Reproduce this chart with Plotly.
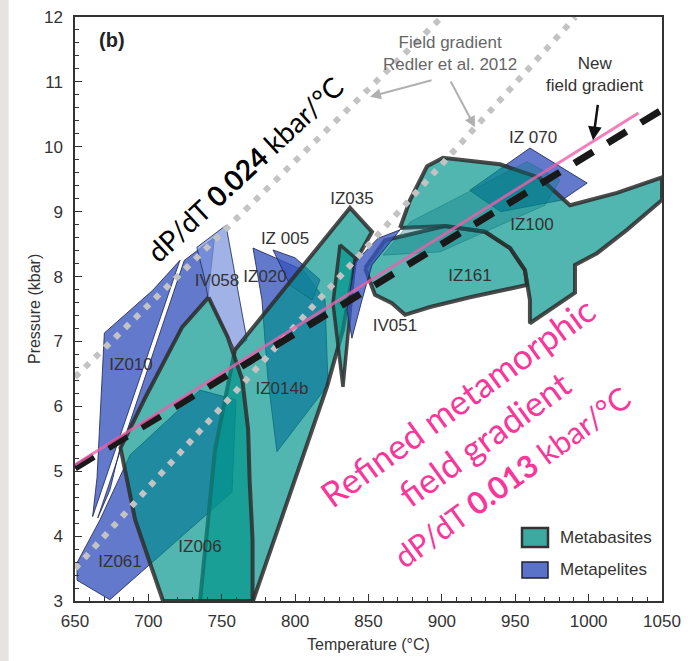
import plotly.graph_objects as go

# ---------------- gradients ----------------
redler_upper_T = [650, 900]
redler_upper_P = [6.45, 12.0]
redler_lower_T = [650, 991]
redler_lower_P = [3.5, 12.0]
new_grad_T = [650, 1050]
new_grad_P = [5.05, 10.57]
refined_T = [650, 1034]
refined_P = [5.10, 10.52]

# ---------------- metapelites (blue) ----------------
iz010_T = [670, 703, 721.5, 662, 665]
iz010_P = [7.13, 7.79, 8.25, 4.30, 4.90]
iv058b_T = [724.5, 745, 740.6, 722.9, 697.7, 680.7, 673.8, 665.5]
iv058b_P = [8.25, 8.60, 7.68, 7.22, 6.14, 5.36, 4.71, 4.28]
iv058_T = [733, 752.9, 767.2, 759, 740.6, 738]
iv058_P = [8.45, 8.79, 7.02, 6.87, 7.68, 8.0]
iz061_T = [651.4, 651.4, 673.8, 757, 759.7, 735.2, 687.5, 667]
iz061_P = [3.59, 3.32, 3.02, 4.68, 6.10, 6.25, 5.25, 4.25]
iz005_T = [771.3, 805.4, 820.4, 822.4, 787.6, 781.5, 777.4]
iz005_P = [8.44, 8.10, 7.64, 6.33, 5.30, 6.41, 7.64]
iz020_T = [784.9, 799.9, 817, 811.5, 796.5]
iz020_P = [8.41, 8.29, 7.95, 7.64, 7.87]
iz070_T = [919, 960, 999, 982, 940]
iz070_P = [9.33, 9.98, 9.44, 9.18, 9.00]
iv051_T = [840.8, 856.5, 871.5, 852.4, 845.6, 838.7, 835.3]
iv051_P = [8.22, 8.59, 8.72, 8.18, 7.64, 7.05, 7.48]

# ---------------- metabasites (teal) ----------------
iz035_T = [735.2, 745.4, 759, 837.4, 852.4, 840.8, 832.6, 821.7, 771.3]
iz035_P = [3.0, 5.33, 6.87, 9.06, 8.69, 8.22, 7.18, 6.30, 3.0]
iz035b_T = [830.6, 840.8, 837.4, 832.6, 825.8]
iz035b_P = [8.49, 8.29, 7.44, 6.30, 7.59]
iz006_T = [741, 723, 698, 681, 691, 710, 771, 771, 769, 768, 764, 754]
iz006_P = [7.68, 7.22, 6.14, 5.36, 4.25, 3.0, 3.0, 3.94, 4.86, 5.64, 6.41, 7.07]
iz161_T = [847.6, 861.2, 902.1, 929.4, 946.4, 956.6, 958, 919.2, 891.9, 874.9, 866, 854.4]
iz161_P = [8.13, 8.56, 8.78, 8.69, 8.44, 8.10, 7.87, 7.68, 7.53, 7.41, 7.59, 7.72]
iz100_T = [871.5, 878.3, 889.9, 900.8, 939.6, 966.9, 981.8, 987.3, 1019.3, 1050, 1050,
           1026.1, 1005.7, 990.7, 990.7, 960, 960, 956.6, 946.4, 929.4, 902.1]
iz100_P = [8.75, 9.18, 9.70, 9.83, 9.73, 9.52, 9.21, 9.10, 9.29, 9.53, 9.18,
           8.72, 8.36, 8.18, 7.75, 7.28, 7.64, 8.10, 8.44, 8.69, 8.78]
iz100b_T = [859.9, 878.3, 958, 980.5, 970.3, 898.7]
iz100b_P = [8.33, 8.84, 9.77, 9.49, 9.10, 8.38]

# ---------------- sample labels ----------------
label_text = ["IZ 070", "IZ035", "IZ 005", "IZ020", "IV058", "IZ010", "IZ014b",
              "IZ100", "IZ161", "IV051", "IZ061", "IZ006"]
label_T = [962.1, 838.7, 793.1, 779.5, 746.8, 688.2, 791.0, 961.4, 919.2, 868.0, 680.7, 735.2]
label_P = [10.13, 9.19, 8.56, 7.98, 7.92, 6.62, 6.25, 8.78, 7.99, 7.22, 3.59, 3.82]

x_ticks = [650, 700, 750, 800, 850, 900, 950, 1000, 1050]
y_ticks = [3, 4, 5, 6, 7, 8, 9, 10, 11, 12]

TEAL_FILL = "rgba(0,148,138,0.68)"
TEAL_LINE = "rgba(45,45,45,0.85)"
BLUE_FILL = "rgba(55,85,190,0.78)"
LIGHT_BLUE_FILL = "rgba(125,148,222,0.72)"
BLUE_LINE = "rgba(25,35,80,0.8)"

fig = go.Figure()


def poly(T, P, name, fill, line, width):
    fig.add_trace(go.Scatter(
        x=T + [T[0]], y=P + [P[0]], mode="lines", fill="toself",
        fillcolor=fill, line=dict(color=line, width=width),
        name=name, showlegend=False, hoverinfo="name"))


# blue first
poly(iz010_T, iz010_P, "IZ010", BLUE_FILL, BLUE_LINE, 1)
poly(iv058b_T, iv058b_P, "IV058", BLUE_FILL, BLUE_LINE, 1)
poly(iv058_T, iv058_P, "IV058", LIGHT_BLUE_FILL, BLUE_LINE, 1)
poly(iz061_T, iz061_P, "IZ061", BLUE_FILL, BLUE_LINE, 1)
poly(iz005_T, iz005_P, "IZ 005", BLUE_FILL, BLUE_LINE, 1)
poly(iz020_T, iz020_P, "IZ020", BLUE_FILL, BLUE_LINE, 1)
poly(iz070_T, iz070_P, "IZ 070", BLUE_FILL, BLUE_LINE, 1)

# teal
poly(iz035_T, iz035_P, "IZ035", TEAL_FILL, TEAL_LINE, 4)
poly(iz006_T, iz006_P, "IZ006", TEAL_FILL, TEAL_LINE, 4)
poly(iz035b_T, iz035b_P, "IZ035", TEAL_FILL, TEAL_LINE, 3.5)
poly(iz161_T, iz161_P, "IZ161", TEAL_FILL, TEAL_LINE, 4)
poly(iz100_T, iz100_P, "IZ100", TEAL_FILL, TEAL_LINE, 4)
poly(iz100b_T, iz100b_P, "IZ100", "rgba(0,120,130,0.35)", "rgba(0,90,100,0.3)", 1)

poly(iv051_T, iv051_P, "IV051", BLUE_FILL, BLUE_LINE, 1)

# gradient lines
for T, P in [(redler_upper_T, redler_upper_P), (redler_lower_T, redler_lower_P)]:
    fig.add_trace(go.Scatter(x=T, y=P, mode="lines", showlegend=False, hoverinfo="skip",
                             line=dict(color="rgb(195,195,195)", width=6, dash="6px,8px")))
fig.add_trace(go.Scatter(x=new_grad_T, y=new_grad_P, mode="lines", showlegend=False,
                         hoverinfo="skip",
                         line=dict(color="rgb(25,25,25)", width=7, dash="22px,17px")))
fig.add_trace(go.Scatter(x=refined_T, y=refined_P, mode="lines", showlegend=False,
                         hoverinfo="skip",
                         line=dict(color="rgba(238,95,170,0.8)", width=3)))

# sample labels
fig.add_trace(go.Scatter(x=label_T, y=label_P, mode="text", text=label_text,
                         textfont=dict(family="Liberation Sans", size=17, color="#333333"),
                         showlegend=False, hoverinfo="skip"))

C = dict(xanchor="center", yanchor="middle", showarrow=False)
ann = []
ann.append(dict(x=675.2, y=11.65, text="<b>(b)</b>",
                font=dict(family="Liberation Sans", size=20, color="#222"), **C))
ann.append(dict(x=905.5, y=11.43, text="Field gradient<br>Redler et al. 2012",
                font=dict(family="Liberation Sans", size=17, color="#666"), **C))
ann.append(dict(x=1004.3, y=11.12, text="New<br>field gradient",
                font=dict(family="Liberation Sans", size=17, color="#333"), **C))
# arrows
for (hx, hy, tx, ty, col, w) in [(851, 10.77, 894, 11.03, "#b0b0b0", 2),
                                 (922.6, 10.30, 905.5, 11.03, "#b0b0b0", 2),
                                 (1003, 10.10, 1006.4, 10.67, "#111", 2.5)]:
    ann.append(dict(x=hx, y=hy, ax=tx, ay=ty, axref="x", ayref="y", xref="x", yref="y",
                    text="", showarrow=True, arrowhead=2, arrowsize=1.1,
                    arrowwidth=w, arrowcolor=col))
ann.append(dict(x=765.5, y=9.66, text="dP/dT <b>0.024</b> kbar/°C",
                textangle=-43, font=dict(family="Lato", size=28, color="#000"), **C))
ann.append(dict(x=928.5, y=5.50,
                text="Refined metamorphic<br>field gradient<br>"
                     "<span style='font-size:31px'>dP/dT <b>0.013</b> kbar/°C</span>",
                textangle=-36,
                font=dict(family="Lato", size=35, color="#f8379a"), **C))
# legend labels
ann.append(dict(x=0.8228, y=0.1079, xref="paper", yref="paper", xanchor="left",
                yanchor="middle", text="Metabasites", showarrow=False,
                font=dict(family="Liberation Sans", size=17, color="#333")))
ann.append(dict(x=0.8228, y=0.0531, xref="paper", yref="paper", xanchor="left",
                yanchor="middle", text="Metapelites", showarrow=False,
                font=dict(family="Liberation Sans", size=17, color="#333")))
# axis titles
ann.append(dict(x=0.5, y=-0.0753, xref="paper", yref="paper", text="Temperature (°C)",
                font=dict(family="Liberation Sans", size=16, color="#333"), **C))
ann.append(dict(x=-0.0698, y=0.5, xref="paper", yref="paper", text="Pressure (kbar)",
                textangle=-90,
                font=dict(family="Liberation Sans", size=16, color="#333"), **C))

shapes = [
    dict(type="rect", xref="paper", yref="paper", x0=-0.128, x1=-0.113, y0=-0.11, y1=1.04,
         fillcolor="#e6e4e0", line=dict(width=0), layer="below"),
    dict(type="rect", xref="paper", yref="paper", x0=0.7615, x1=0.8058, y0=0.0925, y1=0.125,
         fillcolor="rgb(60,170,160)", line=dict(color="#333", width=2.5)),
    dict(type="rect", xref="paper", yref="paper", x0=0.7615, x1=0.8058, y0=0.0394, y1=0.0668,
         fillcolor="rgb(90,115,200)", line=dict(color="#223", width=1.5)),
]

axis_common = dict(showgrid=False, zeroline=False, showline=True, linecolor="#333",
                   linewidth=1.5, mirror=True, ticks="inside", ticklen=7, tickwidth=1.2,
                   tickcolor="#333", automargin=False,
                   tickfont=dict(family="Liberation Sans", size=17, color="#333"))

fig.update_layout(
    width=696, height=661,
    margin=dict(l=75, r=34, t=17, b=60, autoexpand=False),
    paper_bgcolor="white", plot_bgcolor="white",
    annotations=ann, shapes=shapes,
    xaxis=dict(range=[650, 1050], tickvals=x_ticks, ticklabelstandoff=4,
               minor=dict(dtick=10, ticks="inside", ticklen=4, tickcolor="#333"),
               **axis_common),
    yaxis=dict(range=[3, 12], tickvals=y_ticks, ticklabelstandoff=7,
               minor=dict(dtick=0.2, ticks="inside", ticklen=4, tickcolor="#333"),
               **axis_common),
)

fig.write_html("out.html", config={"displayModeBar": False},
               post_script="document.body.style.margin='0';document.body.style.overflow='hidden';")
